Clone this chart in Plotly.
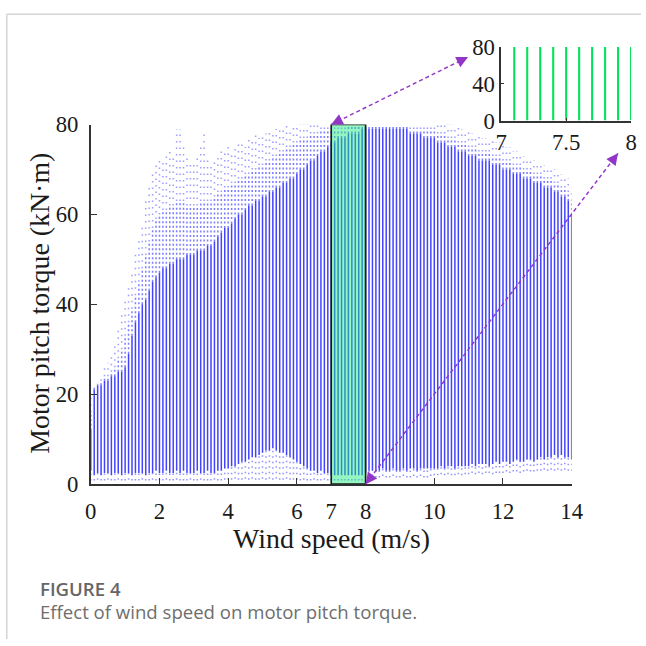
import plotly.graph_objects as go

# Page geometry: the body keeps its default 8px margin and the captured
# picture comes out at about 0.968 of page pixels, so reference pixel
# positions are converted with that factor.
S = 0.968
K = 1 / S
PAD = 8
FW = FH = 652

# ---------------- data ----------------
wind_speed = [
    0.0, 0.1, 0.2, 0.3, 0.4, 0.5, 0.6, 0.7, 0.8, 0.9,
    1.0, 1.1, 1.2, 1.3, 1.4, 1.5, 1.6, 1.7, 1.8, 1.9,
    2.0, 2.1, 2.2, 2.3, 2.4, 2.5, 2.6, 2.7, 2.8, 2.9,
    3.0, 3.1, 3.2, 3.3, 3.4, 3.5, 3.6, 3.7, 3.8, 3.9,
    4.0, 4.1, 4.2, 4.3, 4.4, 4.5, 4.6, 4.7, 4.8, 4.9,
    5.0, 5.1, 5.2, 5.3, 5.4, 5.5, 5.6, 5.7, 5.8, 5.9,
    6.0, 6.1, 6.2, 6.3, 6.4, 6.5, 6.6, 6.7, 6.8, 6.9,
    7.0, 7.1, 7.2, 7.3, 7.4, 7.5, 7.6, 7.7, 7.8, 7.9,
    8.0, 8.1, 8.2, 8.3, 8.4, 8.5, 8.6, 8.7, 8.8, 8.9,
    9.0, 9.1, 9.2, 9.3, 9.4, 9.5, 9.6, 9.7, 9.8, 9.9,
    10.0, 10.1, 10.2, 10.3, 10.4, 10.5, 10.6, 10.7, 10.8, 10.9,
    11.0, 11.1, 11.2, 11.3, 11.4, 11.5, 11.6, 11.7, 11.8, 11.9,
    12.0, 12.1, 12.2, 12.3, 12.4, 12.5, 12.6, 12.7, 12.8, 12.9,
    13.0, 13.1, 13.2, 13.3, 13.4, 13.5, 13.6, 13.7, 13.8, 13.9,
    14.0,
]

# lowest scattered torque per wind-speed bin (kN·m)
torque_min = [
    0.8, 0.8, 1.0, 0.8, 0.8, 1.0, 0.8, 0.8, 1.0, 0.8,
    0.8, 1.0, 0.8, 0.8, 0.8, 1.0, 0.8, 0.8, 1.0, 0.8,
    0.8, 0.8, 1.0, 0.8, 0.8, 1.0, 0.8, 0.8, 0.8, 1.0,
    0.8, 0.8, 1.0, 0.8, 0.8, 0.8, 1.0, 0.8, 0.8, 1.0,
    1.0, 1.0, 1.2, 1.0, 1.0, 1.2, 1.0, 1.2, 1.0, 1.0,
    1.2, 1.0, 1.2, 1.0, 1.2, 1.0, 1.0, 1.2, 1.0, 1.0,
    1.0, 0.8, 1.0, 0.8, 0.8, 1.0, 0.8, 0.8, 1.0, 0.8,
    0.8, 0.8, 0.8, 0.8, 0.8, 0.8, 0.8, 0.8, 0.8, 0.8,
    1.5, 1.5, 1.8, 1.5, 1.5, 1.8, 1.5, 1.5, 1.8, 1.5,
    1.5, 1.8, 1.5, 1.5, 1.8, 1.5, 1.8, 1.5, 1.5, 1.8,
    2.0, 2.0, 2.2, 2.0, 2.2, 2.0, 2.0, 2.2, 2.0, 2.2,
    2.2, 2.5, 2.2, 2.5, 2.2, 2.5, 2.5, 2.2, 2.5, 2.5,
    2.5, 2.8, 2.5, 2.8, 2.8, 2.5, 2.8, 3.0, 2.8, 2.8,
    3.0, 3.0, 3.2, 3.0, 3.2, 3.0, 3.2, 3.0, 3.2, 3.0,
    3.0,
]

# bottom of the dense (solid) band
torque_dense_low = [
    3.0, 2.0, 2.5, 2.0, 2.5, 2.5, 2.0, 2.5, 2.5, 2.0,
    2.5, 2.5, 2.0, 2.5, 2.5, 2.5, 2.0, 2.5, 2.5, 3.0,
    2.5, 2.5, 3.0, 2.5, 2.5, 3.0, 2.5, 3.0, 2.5, 2.5,
    2.5, 3.0, 2.5, 2.5, 3.0, 2.5, 2.5, 3.0, 3.0, 3.5,
    3.5, 4.0, 4.0, 4.5, 5.0, 5.0, 5.5, 6.0, 6.0, 6.5,
    7.0, 7.5, 7.5, 8.0, 7.5, 7.0, 7.0, 6.5, 6.0, 5.5,
    5.0, 4.5, 4.0, 3.5, 3.0, 3.0, 2.5, 3.0, 2.5, 2.5,
    2.0, 2.0, 2.0, 2.0, 2.0, 2.0, 2.0, 2.0, 2.0, 2.0,
    2.5, 3.0, 3.0, 3.0, 3.0, 3.5, 3.0, 3.0, 3.5, 3.0,
    3.0, 3.5, 3.0, 3.5, 3.5, 3.0, 3.5, 3.5, 3.5, 3.5,
    3.5, 3.5, 4.0, 3.5, 4.0, 4.0, 3.5, 4.0, 4.0, 4.0,
    4.0, 4.5, 4.0, 4.5, 4.5, 4.5, 4.0, 4.5, 5.0, 4.5,
    5.0, 5.0, 4.5, 5.0, 5.5, 5.0, 5.0, 5.5, 5.5, 5.0,
    5.5, 6.0, 5.5, 6.0, 6.0, 6.5, 6.0, 6.5, 6.0, 6.0,
    5.5,
]

# top of the dense (solid) band
torque_dense_high = [
    12, 21, 22, 22, 23, 23, 24, 24, 25, 25,
    26, 29, 33, 36, 38, 40, 41, 43, 45, 46,
    47, 48, 48, 49, 49, 50, 50, 50, 51, 51,
    51, 52, 52, 52, 53, 53, 54, 55, 56, 57,
    57, 58, 59, 60, 60, 61, 62, 62, 63, 63,
    64, 64, 65, 65, 66, 66, 67, 67, 68, 68,
    69, 70, 70, 71, 72, 72, 73, 74, 74, 75,
    76, 76, 77, 77, 77, 78, 78, 78, 78, 79,
    79, 79, 79, 79, 79, 79, 79, 79, 79, 79,
    79, 79, 79, 78, 78, 78, 78, 77, 77, 77,
    77, 76, 76, 76, 75, 75, 75, 74, 74, 74,
    73, 73, 73, 72, 72, 72, 72, 71, 71, 71,
    70, 70, 70, 69, 69, 69, 68, 68, 68, 67,
    67, 67, 66, 66, 66, 65, 65, 64, 64, 63,
    60,
]

# top of the densely dotted band
torque_mid = [
    16, 22, 22, 23, 24, 24, 25, 26, 28, 30,
    33, 36, 39, 42, 45, 48, 51, 54, 57, 59,
    60, 61, 61, 62, 62, 63, 63, 63, 62, 62,
    62, 62, 63, 63, 63, 63, 64, 65, 65, 66,
    66, 67, 67, 68, 68, 69, 69, 70, 70, 71,
    71, 72, 72, 73, 73, 74, 74, 75, 75, 76,
    76, 77, 77, 77, 78, 78, 78, 79, 79, 79,
    79, 79, 79, 79, 79, 80, 80, 80, 80, 80,
    80, 80, 80, 80, 80, 80, 80, 80, 80, 80,
    80, 80, 80, 79, 79, 79, 79, 79, 79, 79,
    79, 78, 78, 78, 77, 77, 77, 76, 76, 76,
    75, 75, 75, 74, 74, 74, 74, 73, 73, 73,
    72, 72, 72, 71, 71, 71, 70, 70, 70, 69,
    69, 69, 68, 68, 68, 67, 67, 66, 66, 65,
    63,
]

# highest scattered torque per bin
torque_max = [
    20, 22, 23, 24, 26, 27, 29, 31, 35, 38,
    41, 44, 47, 52, 55, 58, 63, 67, 70, 72,
    73, 72, 73, 74, 73, 79, 79, 75, 73, 72,
    71, 73, 76, 78, 72, 71, 72, 73, 74, 74,
    75, 74, 75, 76, 76, 75, 77, 77, 78, 77,
    78, 78, 79, 78, 79, 79, 79, 80, 79, 80,
    80, 80, 80, 80, 80, 80, 80, 80, 80, 80,
    80, 80, 80, 80, 80, 80, 80, 80, 80, 80,
    80, 80, 80, 80, 80, 80, 80, 80, 80, 80,
    80, 80, 80, 80, 80, 80, 80, 80, 80, 80,
    80, 80, 80, 80, 80, 80, 79, 80, 79, 78,
    79, 78, 77, 78, 77, 77, 76, 77, 76, 76,
    76, 75, 75, 74, 74, 73, 73, 72, 72, 72,
    71, 71, 71, 70, 70, 70, 69, 69, 68, 68,
    66,
]

highlight_range = [7, 8]
x_ticks = [0, 2, 4, 6, 7, 8, 10, 12, 14]
y_ticks = [0, 20, 40, 60, 80]
inset_x_ticks = [7, 7.5, 8]
inset_x_ticktext = ["7", "7.5", "8"]
inset_y_ticks = [0, 40, 80]


# ---------------- layout geometry ----------------
def fx(px):
    """reference picture pixel (x) -> paper fraction"""
    return (px * K - PAD) / FW


def fy(py):
    """reference picture pixel (y) -> paper fraction"""
    return 1 - (py * K - PAD) / FH


MAIN_X = [fx(92), fx(570)]
MAIN_Y = [fy(483), fy(121)]
INSET_X = [fx(500), fx(629)]
INSET_Y = [fy(117), fy(43)]
X_RANGE = [0, 14]
Y_RANGE = [0, 80]

SERIF = "Liberation Serif"
BLUE = "rgb(66,66,255)"
GREEN = "#00e35a"
PURPLE = "#9236c8"


def segments(xs, y0s, y1s):
    sx, sy = [], []
    for x, a, b in zip(xs, y0s, y1s):
        if b > a:
            sx += [x, x, None]
            sy += [a, b, None]
    return sx, sy


fig = go.Figure()

# sparse dots below the dense band
sx, sy = segments(wind_speed, torque_min, torque_dense_low)
fig.add_trace(go.Scatter(x=sx, y=sy, mode="lines", hoverinfo="skip",
                         line=dict(color="rgba(90,90,255,0.65)", width=1.5 * K, dash="1.5px,4px")))
# dense band
sx, sy = segments(wind_speed, torque_dense_low, torque_dense_high)
fig.add_trace(go.Scatter(x=sx, y=sy, mode="lines", hoverinfo="skip",
                         line=dict(color=BLUE, width=1.45 * K)))
# densely dotted band
sx, sy = segments(wind_speed, torque_dense_high, torque_mid)
fig.add_trace(go.Scatter(x=sx, y=sy, mode="lines", hoverinfo="skip",
                         line=dict(color="rgba(75,75,255,0.72)", width=1.5 * K, dash="2px,2.5px")))
# sparse dots at the top
sx, sy = segments(wind_speed, torque_mid, torque_max)
fig.add_trace(go.Scatter(x=sx, y=sy, mode="lines", hoverinfo="skip",
                         line=dict(color="rgba(95,95,255,0.6)", width=1.5 * K, dash="1.5px,5px")))

# inset: zoom into highlighted wind-speed range
ix, iy0, iy1 = [], [], []
for x, a, b in zip(wind_speed, torque_min, torque_max):
    if highlight_range[0] < x <= highlight_range[1]:
        ix.append(x)
        iy0.append(0)
        iy1.append(b)
sx, sy = segments(ix, iy0, iy1)
fig.add_trace(go.Scatter(x=sx, y=sy, mode="lines", hoverinfo="skip", xaxis="x2", yaxis="y2",
                         line=dict(color=GREEN, width=2 * K)))

axis_common = dict(showline=True, linecolor="#333333", linewidth=1.5 * K, ticks="inside",
                   tickcolor="#333333", tickwidth=1.3 * K, showgrid=False, zeroline=False,
                   tickfont=dict(family=SERIF, size=22 * K, color="#1a1a1a"))

fig.update_layout(
    width=FW, height=FH, autosize=False,
    margin=dict(l=0, r=0, t=0, b=0),
    paper_bgcolor="white", plot_bgcolor="rgba(0,0,0,0)",
    showlegend=False,
    xaxis=dict(domain=MAIN_X, range=X_RANGE, tickvals=x_ticks, ticklen=6 * K,
               ticklabelstandoff=round(6 * K), anchor="y", **axis_common),
    yaxis=dict(domain=MAIN_Y, range=Y_RANGE, tickvals=y_ticks, ticklen=6 * K,
               ticklabelstandoff=round(6 * K), anchor="x", **axis_common),
    xaxis2=dict(domain=INSET_X, range=highlight_range, tickvals=inset_x_ticks,
                ticktext=inset_x_ticktext, ticklen=3 * K, anchor="y2", **axis_common),
    yaxis2=dict(domain=INSET_Y, range=Y_RANGE, tickvals=inset_y_ticks, ticklen=3 * K,
                anchor="x2", **axis_common),
)


def main_to_paper(x, y):
    px = MAIN_X[0] + (x - X_RANGE[0]) / (X_RANGE[1] - X_RANGE[0]) * (MAIN_X[1] - MAIN_X[0])
    py = MAIN_Y[0] + (y - Y_RANGE[0]) / (Y_RANGE[1] - Y_RANGE[0]) * (MAIN_Y[1] - MAIN_Y[0])
    return px, py


shapes = []
# highlight rectangle
shapes.append(dict(type="rect", xref="x", yref="y", x0=highlight_range[0], x1=highlight_range[1],
                   y0=Y_RANGE[0], y1=Y_RANGE[1], layer="above",
                   fillcolor="rgba(20,235,120,0.45)", line=dict(color="#1a1a1a", width=1.6 * K)))
# page frame
shapes.append(dict(type="line", xref="paper", yref="paper", x0=fx(8.5), x1=1, y0=fy(10), y1=fy(10),
                   line=dict(color="#d6d6d6", width=1.5 * K)))
shapes.append(dict(type="line", xref="paper", yref="paper", x0=fx(8.5), x1=fx(8.5), y0=0, y1=fy(10),
                   line=dict(color="#d6d6d6", width=1.5 * K)))

annotations = []
# zoom arrows (dashed, double-headed)
arrow_pairs = [
    (main_to_paper(highlight_range[0], Y_RANGE[1]), (fx(467), fy(53))),
    (main_to_paper(highlight_range[1], Y_RANGE[0]), (fx(616), fy(150))),
]
for p, q in arrow_pairs:
    shapes.append(dict(type="line", xref="paper", yref="paper", x0=p[0], y0=p[1], x1=q[0], y1=q[1],
                       line=dict(color=PURPLE, width=1.4 * K, dash="4px,3px")))
    for head, other in ((p, q), (q, p)):
        hx, hy = head[0] * FW, (1 - head[1]) * FH
        ox, oy = other[0] * FW, (1 - other[1]) * FH
        d = ((hx - ox) ** 2 + (hy - oy) ** 2) ** 0.5
        ux, uy = (hx - ox) / d, (hy - oy) / d
        annotations.append(dict(x=head[0], y=head[1], xref="paper", yref="paper",
                                ax=-ux * 6 * K, ay=-uy * 6 * K, axref="pixel", ayref="pixel",
                                text="", showarrow=True, arrowhead=2, arrowsize=1.6,
                                arrowwidth=1.4 * K, arrowcolor=PURPLE, standoff=0))

# axis titles
annotations.append(dict(text="Wind speed (m/s)", xref="paper", yref="paper",
                        x=(MAIN_X[0] + MAIN_X[1]) / 2, y=fy(538), showarrow=False,
                        xanchor="center", yanchor="middle",
                        font=dict(family=SERIF, size=27 * K, color="#1a1a1a")))
annotations.append(dict(text="Motor pitch torque (kN·m)", xref="paper", yref="paper",
                        x=fx(41), y=fy(301), showarrow=False, textangle=-90,
                        xanchor="center", yanchor="middle",
                        font=dict(family=SERIF, size=27 * K, color="#1a1a1a")))
# caption
annotations.append(dict(text="FIGURE 4", xref="paper", yref="paper", x=fx(40), y=fy(588),
                        showarrow=False, xanchor="left", yanchor="middle",
                        font=dict(family="Open Sans", size=18 * K, color="#666666", weight=600)))
annotations.append(dict(text="Effect of wind speed on motor pitch torque.", xref="paper", yref="paper",
                        x=fx(40), y=fy(611), showarrow=False, xanchor="left", yanchor="middle",
                        font=dict(family="Open Sans", size=18 * K, color="#6e6e6e")))

fig.update_layout(shapes=shapes, annotations=annotations)

fig.write_html("out.html")
